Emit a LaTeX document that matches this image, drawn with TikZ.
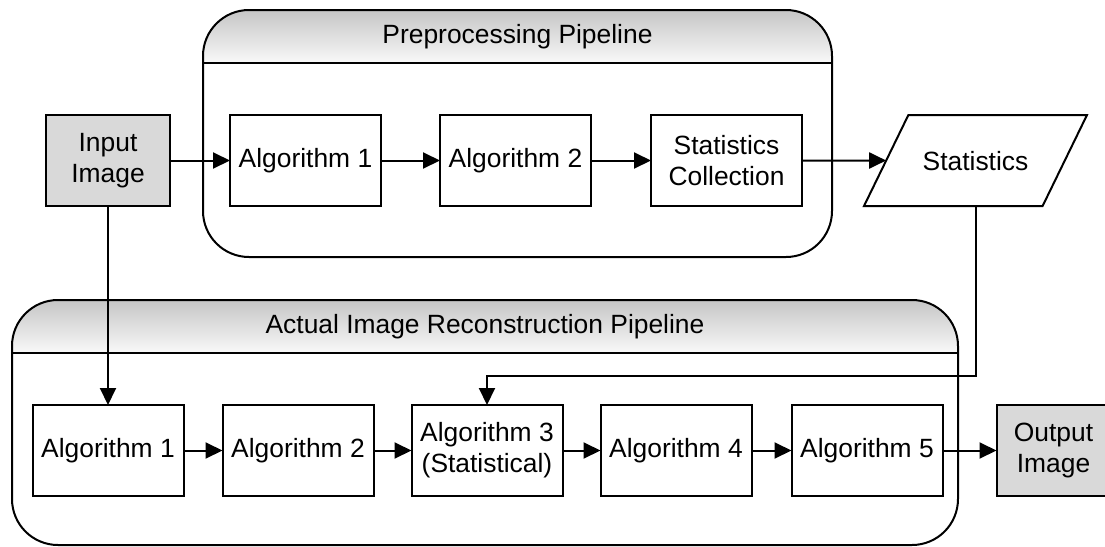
\documentclass[tikz,border=0pt]{standalone}
\usepackage{fontspec}
\setmainfont{Liberation Sans}
\usetikzlibrary{arrows.meta, shapes.geometric, positioning}

\begin{document}
\begin{tikzpicture}[x=0.5pt, y=-0.5pt,
every node/.style={font=\fontsize{13.2pt}{15.5pt}\selectfont},
algo/.style={rectangle, draw=black, fill=white, line width=1pt, minimum width=75.5pt, minimum height=45.5pt, inner sep=0pt, outer sep=0pt, align=center},
imgbox/.style={algo, fill=gray!30},
data/.style={trapezium, trapezium left angle=64, trapezium right angle=116, trapezium stretches body=true, draw=black, fill=white, line width=1pt, minimum width=111.5pt, text height=9.5pt, text depth=0pt, inner xsep=0pt, inner ysep=18pt, outer sep=0pt, align=center},
flow/.style={-{Triangle[length=8.5pt, width=8pt]}, line width=1pt},
pipe/.style={draw=black, line width=1pt, rounded corners=23pt},
pipehead/.style={top color=gray!45, bottom color=gray!5}
]
	\useasboundingbox (0,0) rectangle (1105,547);

	% preprocessing pipeline
	\begin{scope}
		\clip[rounded corners=23pt] (203,10) rectangle (832,257);
		\shade[pipehead] (203,10) rectangle (832,63);
	\end{scope}
	\draw[pipe] (203,10) rectangle (832,257);
	\draw[line width=1pt] (203,63) -- (832,63);
	\node (ph) at (517.5,36.5) {Preprocessing Pipeline};

	% reconstruction pipeline
	\begin{scope}
		\clip[rounded corners=23pt] (12,300) rectangle (958,545);
		\shade[pipehead] (12,300) rectangle (958,353);
	\end{scope}
	\draw[pipe] (12,300) rectangle (958,545);
	\draw[line width=1pt] (12,353) -- (958,353);
	\node (rh) at (485,326.5) {Actual Image Reconstruction Pipeline};

	\node[imgbox, minimum width=62pt] (in1) at (108,160.5) {Input\\Image};
	\node[algo] (p1) at (305.5,160.5) {Algorithm 1};
	\node[algo, anchor=west, shift={(59,0)}] (p2) at (p1.east) {Algorithm 2};
	\node[algo, anchor=west, shift={(60,0)}] (p3) at (p2.east) {Statistics\\Collection};
	\node[data] (st) at (975.5,160.5) {Statistics};

	\node[algo] (r1) at (108,450.5) {Algorithm 1};
	\node[algo, anchor=west, shift={(39,0)}] (r2) at (r1.east) {Algorithm 2};
	\node[algo, anchor=west, shift={(38,0)}] (r3) at (r2.east) {Algorithm 3\\(Statistical)};
	\node[algo, anchor=west, shift={(38,0)}] (r4) at (r3.east) {Algorithm 4};
	\node[algo, anchor=west, shift={(40,0)}] (r5) at (r4.east) {Algorithm 5};
	\node[imgbox, minimum width=57pt, anchor=west, shift={(54,0)}] (out1) at (r5.east) {Output\\Image};

	\draw[flow] (in1) -- (p1);
	\draw[flow] (p1) -- (p2);
	\draw[flow] (p2) -- (p3);
	\draw[flow] (p3) -- (st);
	\draw[flow] (in1) -- (r1);
	\draw[flow] (st.south) -- ++(0,170) -| (r3.north);
	\draw[flow] (r1) -- (r2);
	\draw[flow] (r2) -- (r3);
	\draw[flow] (r3) -- (r4);
	\draw[flow] (r4) -- (r5);
	\draw[flow] (r5) -- (out1);
\end{tikzpicture}
\end{document}
